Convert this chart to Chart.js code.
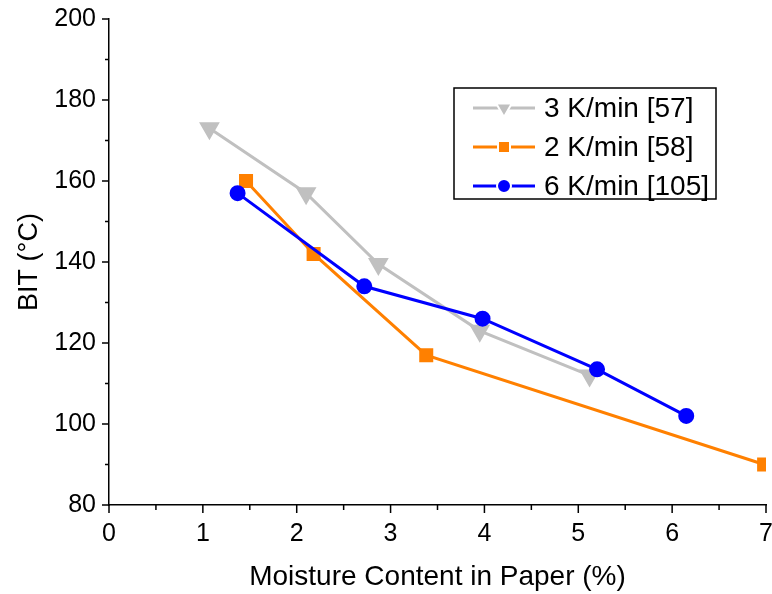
<!DOCTYPE html>
<html>
<head>
<meta charset="utf-8">
<script src="https://cdn.jsdelivr.net/npm/chart.js@4.4.1/dist/chart.umd.min.js"></script>
<style>
  html, body { margin: 0; padding: 0; background: #fff; }
  #wrap { width: 772px; height: 594px; }
</style>
</head>
<body>
<div id="wrap"><canvas id="bit-chart" width="772" height="594"></canvas></div>
<script>
// data
const seriesLabels = ['3 K/min [57]', '2 K/min [58]', '6 K/min [105]'];

const moisture3K = [1.07, 2.10, 2.87, 3.95, 5.12];
const bit3K      = [173, 157, 139.5, 123, 112];

const moisture2K = [1.46, 2.18, 3.38, 6.98];
const bit2K      = [160, 142, 117, 90];

const moisture6K = [1.37, 2.72, 3.98, 5.20, 6.15];
const bit6K      = [157, 134, 126, 113.5, 102];

const xTicks = [0, 1, 2, 3, 4, 5, 6, 7];
const yTicks = [80, 100, 120, 140, 160, 180, 200];

const FONT = "'Liberation Sans', Arial, sans-serif";

function toPoints(xs, ys) {
    return xs.map((x, i) => ({ x: x, y: ys[i] }));
}

// fixed box sizes so the plot area lands where it is in the figure
function fixBox(scale, prop, size) {
    scale[prop] = size;
    scale.paddingLeft = 0; scale.paddingRight = 0;
    scale.paddingTop = 0; scale.paddingBottom = 0;
}

// minor/major ticks drawn outward from the axes
const axisTicks = {
    id: 'axisTicks',
    afterDraw(chart) {
        const ctx = chart.ctx;
        const xs = chart.scales.x, ys = chart.scales.y;
        const area = chart.chartArea;
        ctx.save();
        ctx.strokeStyle = '#000';
        ctx.lineWidth = 1.5;
        ctx.beginPath();
        for (let v = 0; v <= 7.001; v += 0.5) {
            const px = xs.getPixelForValue(v);
            const len = Math.abs(v - Math.round(v)) < 1e-6 ? 8 : 5;
            ctx.moveTo(px, area.bottom);
            ctx.lineTo(px, area.bottom + len);
        }
        for (let v = 80; v <= 200.001; v += 10) {
            const py = ys.getPixelForValue(v);
            const len = v % 20 === 0 ? 7 : 4;
            ctx.moveTo(area.left, py);
            ctx.lineTo(area.left - len, py);
        }
        ctx.stroke();
        ctx.restore();
    }
};

function drawMarker(ctx, style, x, y, color) {
    ctx.fillStyle = color;
    ctx.strokeStyle = '#fff';
    ctx.lineWidth = 2;
    ctx.beginPath();
    if (style === 'triangle') {
        const r = 9;
        ctx.moveTo(x - r * 0.866, y - r * 0.5);
        ctx.lineTo(x + r * 0.866, y - r * 0.5);
        ctx.lineTo(x, y + r);
        ctx.closePath();
    } else if (style === 'rect') {
        ctx.rect(x - 6, y - 6, 12, 12);
    } else {
        ctx.arc(x, y, 7, 0, Math.PI * 2);
    }
    ctx.fill();
    ctx.stroke();
}

// boxed legend inside the plot, like the original
const boxLegend = {
    id: 'boxLegend',
    afterDraw(chart) {
        const ctx = chart.ctx;
        const left = 454, top = 88, right = 716, bottom = 199;
        const rows = [108, 147, 186];
        ctx.save();
        ctx.fillStyle = '#fff';
        ctx.fillRect(left, top, right - left, bottom - top);
        ctx.strokeStyle = '#000';
        ctx.lineWidth = 1.5;
        ctx.strokeRect(left, top, right - left, bottom - top);
        chart.data.datasets.forEach((ds, i) => {
            const y = rows[i];
            ctx.strokeStyle = ds.borderColor;
            ctx.lineWidth = 3;
            ctx.beginPath();
            ctx.moveTo(473, y);
            ctx.lineTo(535, y);
            ctx.stroke();
            drawMarker(ctx, ds.pointStyle, 504, y, ds.borderColor);
            ctx.fillStyle = '#000';
            ctx.font = '28px ' + FONT;
            ctx.textBaseline = 'middle';
            ctx.textAlign = 'left';
            ctx.fillText(ds.label, 544, y + 1);
        });
        ctx.restore();
    }
};

const ctx = document.getElementById('bit-chart').getContext('2d');
const myChart = new Chart(ctx, {
    type: 'line',
    data: {
        datasets: [
            {
                label: seriesLabels[0],
                data: toPoints(moisture3K, bit3K),
                borderColor: '#c0c0c0',
                backgroundColor: '#c0c0c0',
                pointStyle: 'triangle',
                pointRotation: 180,
                pointRadius: 10,
                order: 3
            },
            {
                label: seriesLabels[1],
                data: toPoints(moisture2K, bit2K),
                borderColor: '#ff8000',
                backgroundColor: '#ff8000',
                pointStyle: 'rect',
                pointRadius: 8.5,
                order: 2
            },
            {
                label: seriesLabels[2],
                data: toPoints(moisture6K, bit6K),
                borderColor: '#0000ff',
                backgroundColor: '#0000ff',
                pointStyle: 'circle',
                pointRadius: 7,
                order: 1
            }
        ]
    },
    options: {
        responsive: false,
        animation: false,
        layout: { autoPadding: false, padding: { top: 19, right: 6, left: 0, bottom: 0 } },
        elements: {
            line: { borderWidth: 3, tension: 0, fill: false },
            point: { borderColor: '#fff', borderWidth: 2 }
        },
        plugins: {
            legend: { display: false },
            tooltip: { enabled: false }
        },
        scales: {
            x: {
                type: 'linear',
                min: 0,
                max: 7,
                afterBuildTicks: (scale) => { scale.ticks = xTicks.map(v => ({ value: v })); },
                afterFit: (scale) => fixBox(scale, 'height', 89),
                grid: { display: false, drawTicks: false },
                border: { display: true, color: '#000', width: 1.5 },
                ticks: { color: '#000', padding: 14, font: { family: FONT, size: 25 } },
                title: {
                    display: true,
                    text: 'Moisture Content in Paper (%)',
                    color: '#000',
                    font: { family: FONT, size: 28 },
                    padding: { top: 0, bottom: 0 }
                }
            },
            y: {
                type: 'linear',
                min: 80,
                max: 200,
                afterBuildTicks: (scale) => { scale.ticks = yTicks.map(v => ({ value: v })); },
                afterFit: (scale) => fixBox(scale, 'width', 109),
                grid: { display: false, drawTicks: false },
                border: { display: true, color: '#000', width: 1.5 },
                ticks: { color: '#000', padding: 13, font: { family: FONT, size: 25 } },
                title: {
                    display: true,
                    text: 'BIT (°C)',
                    color: '#000',
                    font: { family: FONT, size: 27 },
                    padding: { top: 13, bottom: 0 }
                }
            }
        }
    },
    plugins: [axisTicks, boxLegend]
});
</script>
</body>
</html>
